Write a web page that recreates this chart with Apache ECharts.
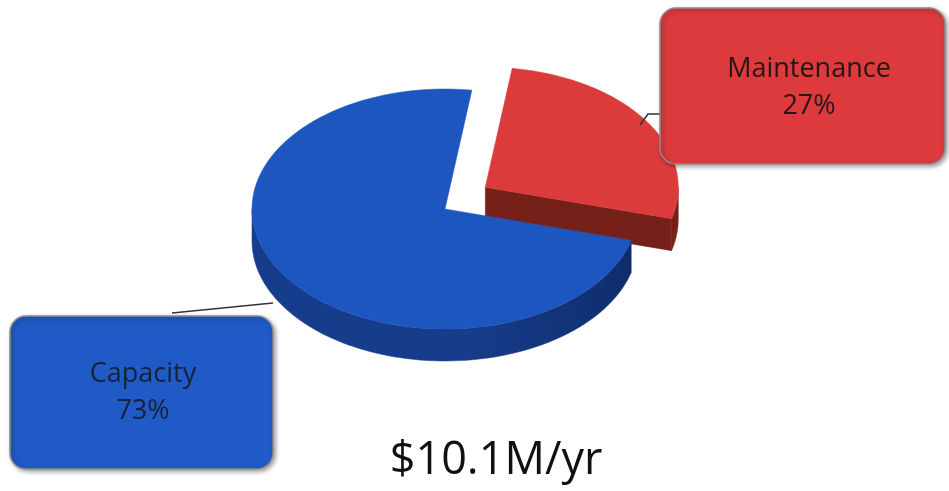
<!DOCTYPE html>
<html>
<head>
<meta charset="utf-8">
<script src="https://cdn.jsdelivr.net/npm/echarts@6/dist/echarts.min.js"></script>
<style>html,body{margin:0;padding:0;background:#fff}#main{width:949px;height:491px}</style>
</head>
<body>
<div id="main"></div>
<script>
const categories = ['Maintenance', 'Capacity'];
const values = [27, 73];
const totalLabel = '$10.1M/yr';

const total = values.reduce((a, b) => a + b, 0);
const cumulative = values.map((v, i) => values.slice(0, i).reduce((a, b) => a + b, 0));
const percents = values.map(v => Math.round(v / total * 100));

const topColors = ['#dc3b3b', '#1e56c0'];
const wallColors = ['#76201a', '#163d8c'];
const chart = echarts.init(document.getElementById('main'), null, {renderer: 'canvas'});

const CX = 445, CY = 209, RX = 193, RY = 120, DEPTH = 32, START = 8;
const EXPLODE_X = [0.25, 0], EXPLODE_Y = [0.33, 0];

function renderItem(params, api) {
  const i = params.dataIndex;
  const v = api.value(0), c = api.value(1);
  const a0 = (START + c / total * 360) * Math.PI / 180;
  const a1 = (START + (c + v) / total * 360) * Math.PI / 180;
  const mid = (a0 + a1) / 2;
  const ox = CX + EXPLODE_X[i] * RX * Math.sin(mid);
  const oy = CY - EXPLODE_Y[i] * RY * Math.cos(mid);
  const P = (t, d) => [ox + RX * Math.sin(t), oy - RY * Math.cos(t) + (d || 0)];
  const children = [];
  const face = (t) => ({type: 'polygon', shape: {points: [[ox, oy], P(t), P(t, DEPTH), [ox, oy + DEPTH]]},
    style: {fill: wallColors[i], stroke: wallColors[i], lineWidth: 0.5}});
  if (Math.sin(a0) < -0.3) children.push(face(a0));
  if (Math.sin(a1) > 0.3) children.push(face(a1));
  const s = Math.max(a0, Math.PI / 2), e = Math.min(a1, Math.PI * 1.5);
  if (e > s) {
    const pts = [];
    const n = 80;
    for (let k = 0; k <= n; k++) pts.push(P(s + (e - s) * k / n));
    for (let k = n; k >= 0; k--) pts.push(P(s + (e - s) * k / n, DEPTH));
    children.push({type: 'polygon', shape: {points: pts},
      style: {fill: new echarts.graphic.LinearGradient(0, 0, 1, 0, [
        {offset: 0, color: wallColors[i]}, {offset: 0.55, color: wallColors[i]}, {offset: 1, color: i === 1 ? '#0f2d6c' : wallColors[i]}]),
        stroke: wallColors[i], lineWidth: 0.5}});
  }
  const tp = [[ox, oy]];
  const n2 = 160;
  for (let k = 0; k <= n2; k++) tp.push(P(a0 + (a1 - a0) * k / n2));
  children.push({type: 'polygon', shape: {points: tp},
    style: {fill: topColors[i], stroke: topColors[i], lineWidth: 0.5}});
  return {type: 'group', children: children};
}

const boxStyle = (fill) => ({fill: fill, stroke: '#8c8c8c', lineWidth: 1.5,
  shadowBlur: 4, shadowOffsetX: 2, shadowOffsetY: 2, shadowColor: 'rgba(0,0,0,0.35)'});

const option = {
  animation: false,
  backgroundColor: '#ffffff',
  title: {
    text: totalLabel, left: 491, textAlign: 'center', top: 434,
    textStyle: {fontFamily: 'Open Sans', fontSize: 45, fontWeight: 'normal', color: '#111111'}
  },
  series: [{
    type: 'custom',
    coordinateSystem: 'none',
    renderItem: renderItem,
    data: values.map((v, i) => ({name: categories[i], value: [v, cumulative[i]]}))
  }],
  graphic: [
    {type: 'polyline', shape: {points: [[640, 125], [648, 114], [661, 114]]}, style: {stroke: '#333', lineWidth: 1.5}, z: 5},
    {type: 'line', shape: {x1: 172, y1: 313, x2: 273, y2: 303}, style: {stroke: '#333', lineWidth: 1.5}, z: 5},
    {type: 'rect', shape: {x: 660, y: 8, width: 285, height: 156, r: 16}, style: boxStyle('#dc3a3c'), z: 10},
    {type: 'text', x: 809, y: 88, z: 11, style: {text: categories[0] + '\n' + percents[0] + '%', align: 'center', verticalAlign: 'middle',
      fontFamily: 'Open Sans', fontSize: 27, lineHeight: 37, fill: '#231616'}},
    {type: 'rect', shape: {x: 10, y: 316, width: 263, height: 153, r: 16}, style: boxStyle('#1f5ac6'), z: 10},
    {type: 'text', x: 143, y: 393, z: 11, style: {text: categories[1] + '\n' + percents[1] + '%', align: 'center', verticalAlign: 'middle',
      fontFamily: 'Open Sans', fontSize: 27, lineHeight: 37, fill: '#16223a'}}
  ]
};
chart.setOption(option);
</script>
</body>
</html>
